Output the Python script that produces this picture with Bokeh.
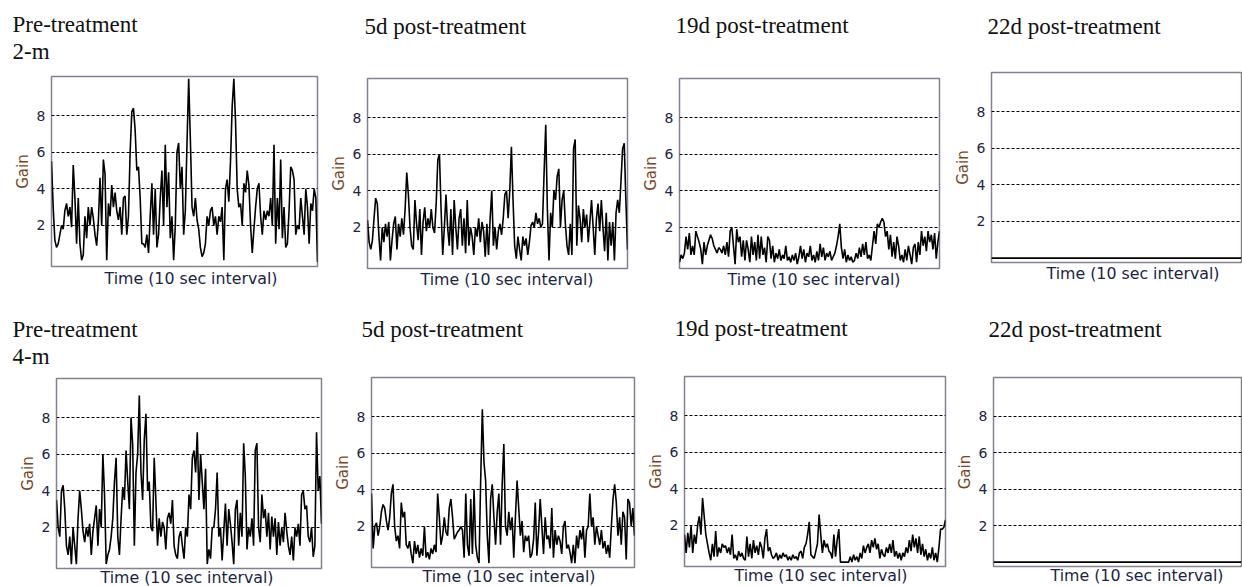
from bokeh.plotting import figure
from bokeh.models import Range1d, FixedTicker, Title
from bokeh.layouts import row, column
from bokeh.embed import file_html
from bokeh.resources import INLINE

# ---- data (gain per 10-second interval) ----
gain_2m_pre = [5.5, 3.0, 1.2, 0.8, 1.0, 1.5, 2.0, 1.8, 2.8, 3.2, 2.5, 3.0, 1.9, 5.3, 3.5, 1.0, 3.5, 1.0, 0.1, 0.4,
               2.5, 1.3, 3.0, 2.0, 3.0, 2.4, 1.5, 0.9, 2.2, 4.6, 2.0, 5.6, 4.8, 0.1, 3.2, 2.5, 4.2, 3.0, 3.8, 2.8,
               2.3, 3.0, 1.5, 3.5, 3.6, 1.5, 2.5, 6.0, 8.2, 8.4, 7.2, 5.0, 5.2, 3.5, 1.0, 1.0, 0.8, 1.5, 0.5, 2.5,
               4.3, 1.5, 4.0, 0.8, 1.5, 3.5, 5.0, 2.0, 6.4, 3.0, 4.9, 1.3, 2.5, 0.1, 2.0, 6.0, 6.5, 4.0, 5.2, 1.5,
               2.8, 6.5, 10.0, 6.7, 3.0, 2.5, 3.5, 2.3, 1.8, 0.8, 0.3, 0.5, 1.0, 2.5, 2.0, 2.8, 3.0, 2.0, 2.5, 1.5,
               2.5, 2.2, 3.0, 0.1, 4.0, 4.5, 3.3, 5.5, 8.5, 10.0, 7.7, 4.0, 3.0, 3.2, 2.0, 4.3, 3.8, 5.0, 4.2, 2.0,
               0.5, 1.8, 3.0, 4.0, 4.3, 2.5, 1.5, 2.8, 2.3, 2.8, 2.5, 3.5, 2.0, 6.4, 1.0, 3.5, 1.8, 5.6, 1.3, 3.0,
               0.8, 1.0, 2.8, 5.2, 5.0, 4.5, 1.5, 2.0, 1.8, 3.5, 2.5, 1.5, 4.0, 3.0, 1.0, 3.2, 2.8, 4.0, 3.5, 0.0]

gain_2m_5d = [2.4, 1.2, 0.8, 1.3, 2.5, 3.6, 3.3, 1.5, 0.2, 2.0, 1.2, 2.2, 1.5, 2.3, 0.2, 1.3, 2.2, 2.6, 0.8, 2.2,
              1.5, 2.5, 1.6, 3.0, 5.0, 3.8, 2.0, 1.0, 0.8, 3.5, 2.2, 1.3, 3.0, 0.5, 2.3, 3.1, 1.8, 2.5, 2.0, 3.0,
              2.0, 1.7, 3.3, 5.7, 6.0, 3.0, 0.5, 2.0, 3.8, 2.0, 1.0, 3.0, 0.5, 3.5, 2.0, 0.8, 2.5, 3.0, 1.0, 2.5,
              0.6, 3.5, 1.0, 2.0, 1.5, 0.5, 2.0, 1.5, 2.5, 1.2, 2.3, 1.8, 0.4, 2.2, 0.5, 2.5, 4.0, 1.0, 2.0, 0.8,
              1.8, 2.2, 1.6, 2.5, 3.8, 4.0, 2.5, 4.0, 6.4, 3.5, 1.0, 0.3, 1.5, 0.8, 0.2, 1.5, 1.0, 1.4, 0.5, 1.2,
              2.1, 2.3, 2.0, 2.8, 2.2, 2.5, 2.0, 2.2, 5.0, 7.6, 3.0, 0.2, 2.8, 2.0, 4.0, 3.5, 4.8, 5.2, 2.0, 3.5,
              4.0, 2.2, 1.0, 0.5, 2.2, 0.5, 6.3, 6.8, 1.0, 3.2, 2.5, 1.2, 3.0, 2.0, 2.7, 1.2, 2.3, 3.5, 2.0, 0.5,
              2.5, 3.3, 1.8, 3.5, 2.0, 0.7, 2.8, 0.2, 2.3, 1.0, 2.3, 0.2, 2.8, 3.5, 2.8, 4.5, 6.3, 6.6, 3.5, 0.8]

gain_2m_19d = [0.1, 0.5, 0.3, 0.6, 1.5, 0.8, 1.7, 0.5, 1.0, 0.5, 1.8, 1.5, 1.2, 0.8, 0.0, 1.2, 0.5, 1.0, 1.3, 1.6,
               1.4, 1.0, 0.8, 0.6, 0.9, 0.8, 0.6, 1.0, 0.5, 1.2, 0.4, 1.8, 2.0, 1.0, 0.0, 1.9, 1.2, 1.5, 0.4, 1.3,
               0.2, 1.3, 0.8, 0.1, 1.5, 0.5, 1.2, 0.2, 1.6, 0.3, 1.5, 0.5, 0.9, 0.1, 1.5, 1.3, 0.3, 1.0, 0.1, 0.6,
               0.3, 0.8, 0.2, 0.5, 0.3, 1.0, 0.2, 0.4, 0.1, 0.5, 0.2, 0.6, 0.0, 0.4, 1.0, 0.3, 0.8, 0.1, 0.6, 0.4,
               1.0, 0.2, 0.5, 0.1, 0.7, 0.2, 1.1, 0.4, 0.9, 0.2, 0.6, 0.4, 0.7, 0.2, 0.4, 0.6, 1.0, 1.5, 2.2, 0.9,
               0.3, 0.8, 0.1, 0.5, 0.2, 0.4, 0.1, 0.2, 0.6, 0.3, 0.9, 0.4, 1.1, 0.5, 1.2, 0.3, 0.5, 0.2, 1.0, 1.8,
               1.1, 2.2, 2.0, 2.3, 2.5, 2.3, 1.5, 1.8, 0.8, 1.6, 0.4, 1.2, 0.3, 1.5, 1.0, 0.2, 0.5, 0.1, 0.8, 0.2,
               1.0, 0.5, 0.0, 0.9, 1.1, 0.1, 1.2, 0.5, 1.8, 1.0, 1.5, 0.7, 1.8, 1.2, 1.6, 0.8, 1.7, 0.3, 1.2, 1.8]

gain_2m_22d = [0.0, 0.0, 0.0, 0.0, 0.0, 0.0, 0.0, 0.0, 0.0, 0.0, 0.0, 0.0, 0.0, 0.0, 0.0, 0.0, 0.0, 0.0, 0.0, 0.0]

gain_4m_pre = [3.5, 2.0, 1.5, 4.0, 4.3, 3.0, 1.0, 0.5, 1.5, 0.0, 2.0, 1.0, 0.0, 2.5, 4.0, 3.0, 1.8, 1.2, 2.0, 1.5,
               2.2, 0.5, 1.8, 2.5, 3.2, 1.0, 3.0, 2.0, 6.0, 3.8, 0.0, 0.5, 0.8, 1.5, 2.5, 4.5, 5.8, 1.5, 0.5, 2.5,
               4.2, 3.5, 6.2, 4.5, 3.0, 8.0, 6.5, 1.0, 5.0, 6.0, 9.2, 5.0, 3.5, 6.8, 8.2, 4.0, 4.5, 2.0, 1.8, 5.8,
               3.5, 1.0, 2.5, 1.5, 2.3, 2.0, 0.8, 2.5, 2.8, 2.2, 3.5, 1.0, 0.5, 0.3, 1.5, 1.8, 1.0, 0.3, 2.0, 1.5,
               3.8, 3.0, 5.8, 6.2, 5.0, 7.2, 3.5, 6.0, 4.5, 3.0, 5.2, 0.0, 0.8, 0.3, 2.0, 2.0, 3.0, 5.0, 1.5, 2.0,
               0.2, 1.8, 3.3, 1.0, 3.0, 2.2, 1.2, 0.0, 3.0, 3.5, 1.0, 2.8, 1.5, 6.6, 4.8, 0.8, 2.0, 1.5, 2.5, 1.0,
               6.2, 6.6, 2.0, 1.2, 3.8, 2.5, 3.0, 1.5, 2.8, 0.8, 2.6, 1.5, 2.5, 0.5, 2.3, 1.0, 2.0, 1.2, 2.8, 1.8,
               1.0, 0.5, 1.5, 0.2, 2.0, 1.5, 2.2, 1.0, 3.8, 4.0, 3.0, 3.2, 1.5, 1.2, 2.0, 0.4, 1.0, 7.2, 4.0, 4.8,
               2.2]

gain_4m_5d = [3.8, 0.8, 2.0, 2.2, 1.5, 2.0, 2.8, 3.2, 3.0, 2.3, 1.8, 2.5, 3.8, 4.3, 2.0, 1.2, 1.5, 0.8, 3.3, 2.5,
              2.8, 1.0, 0.8, 1.2, 0.5, 0.0, 1.2, 0.5, 1.0, 0.3, 0.8, 0.4, 2.0, 0.3, 0.6, 0.2, 0.8, 0.5, 1.0, 0.6,
              3.8, 2.5, 1.0, 1.5, 2.5, 1.7, 1.5, 3.0, 3.5, 2.5, 1.3, 1.5, 1.7, 1.8, 2.0, 1.8, 0.3, 3.8, 1.0, 0.4,
              3.5, 0.5, 4.0, 1.0, 0.3, 0.0, 4.5, 8.4, 5.5, 4.5, 1.5, 0.0, 3.5, 4.3, 2.5, 1.0, 2.8, 3.8, 1.0, 4.3,
              6.5, 2.0, 1.5, 2.8, 1.8, 2.5, 0.3, 2.5, 4.5, 3.0, 1.5, 2.3, 0.6, 1.5, 1.2, 1.5, 0.3, 0.5, 1.3, 3.3,
              0.4, 1.7, 3.5, 2.0, 0.5, 2.5, 1.3, 1.5, 0.8, 3.0, 0.3, 1.8, 1.0, 1.5, 1.2, 0.5, 2.0, 2.3, 0.8, 1.0,
              0.6, 0.0, 1.0, 0.0, 1.5, 0.8, 1.8, 1.3, 2.0, 0.3, 1.8, 2.0, 3.8, 2.0, 2.5, 1.0, 2.0, 1.5, 1.0, 1.8,
              0.8, 1.2, 0.5, 1.0, 0.3, 2.0, 3.5, 4.3, 3.3, 1.5, 2.5, 1.0, 2.8, 2.5, 0.2, 3.5, 3.3, 2.0, 3.0, 1.5]

gain_4m_19d = [1.5, 0.5, 1.6, 0.8, 2.0, 0.5, 1.5, 1.0, 2.0, 2.5, 1.5, 3.5, 2.5, 1.5, 1.0, 0.5, 0.1, 1.0, 0.3, 1.7,
               0.3, 0.8, 0.5, 1.0, 0.8, 0.9, 0.5, 0.8, 0.4, 1.5, 0.2, 0.4, 0.1, 0.6, 0.3, 0.5, 0.2, 0.1, 1.4, 0.3,
               1.0, 0.2, 1.2, 0.5, 0.9, 0.4, 1.1, 0.8, 0.2, 1.3, 1.8, 0.6, 0.8, 0.4, 0.2, 0.3, 0.5, 0.1, 0.4, 0.2,
               0.5, 0.3, 0.4, 0.1, 0.3, 0.1, 0.4, 0.2, 0.3, 0.1, 0.5, 0.6, 0.2, 0.8, 1.0, 1.5, 2.2, 0.4, 0.3, 0.2,
               0.6, 1.0, 2.6, 1.5, 0.5, 1.2, 0.8, 1.0, 0.6, 0.5, 0.2, 1.5, 0.3, 1.2, 1.8, 0.0, 0.0, 0.0, 0.0, 0.0,
               0.0, 0.3, 0.0, 0.4, 0.1, 0.3, 0.0, 0.5, 0.2, 0.9, 0.5, 0.8, 1.0, 0.5, 1.2, 0.8, 1.3, 0.7, 1.0, 0.2,
               0.7, 0.4, 0.3, 0.8, 0.5, 1.0, 0.5, 1.2, 0.3, 0.6, 0.2, 0.5, 0.1, 0.5, 0.3, 0.8, 0.5, 1.2, 0.6, 1.5,
               0.8, 1.3, 0.5, 1.4, 0.4, 1.0, 0.3, 0.7, 0.1, 0.5, 0.2, 0.8, 0.1, 0.5, 0.0, 0.8, 1.8, 1.8, 1.9, 2.3]

gain_4m_22d = [0.0, 0.0, 0.0, 0.0, 0.0, 0.0, 0.0, 0.0, 0.0, 0.0, 0.0, 0.0, 0.0, 0.0, 0.0, 0.0, 0.0, 0.0, 0.0, 0.0]

y_ticks = [2, 4, 6, 8]
panel_titles = ["Pre-treatment", "5d post-treatment", "19d post-treatment", "22d post-treatment"]
distance_labels = ["2-m", "4-m"]
x_label = "Time (10 sec interval)"
y_label = "Gain"

SANS = "DejaVu Sans"
SERIF = "Liberation Serif"
TEXT_DARK = "#1c2444"


def panel(vals, titles, width, height, left, right, top, bottom, title_offset, spacer,
          xlabel_offset, xlabel_standoff):
    p = figure(width=width, height=height, output_backend="svg", toolbar_location=None,
               x_range=Range1d(0, len(vals) - 1), y_range=Range1d(-0.24, 10.13),
               x_axis_location=None,
               min_border_left=left, min_border_right=right,
               min_border_top=top, min_border_bottom=bottom, title=None)
    p.line(list(range(len(vals))), vals, line_color="black", line_width=1.6)

    # invisible spacer title next to the frame, then the real titles stacked outward
    p.add_layout(Title(text=" ", text_font_size="1px", standoff=spacer), "above")
    for t in reversed(titles):
        p.add_layout(Title(text=t, text_font=SERIF, text_font_size="23px", text_font_style="normal",
                           text_color="#111111", align="left", offset=title_offset, standoff=0), "above")

    # x-axis caption (the x axis has no ticks or tick labels)
    p.add_layout(Title(text=x_label, text_font=SANS, text_font_size="15.8px", text_font_style="normal",
                       text_color=TEXT_DARK, align="left", offset=xlabel_offset,
                       standoff=xlabel_standoff), "below")

    p.yaxis.ticker = FixedTicker(ticks=y_ticks)
    p.yaxis.major_tick_line_color = None
    p.yaxis.minor_tick_line_color = None
    p.yaxis.major_tick_out = 0
    p.yaxis.minor_tick_out = 0
    p.yaxis.axis_line_color = None
    p.yaxis.major_label_text_font = SANS
    p.yaxis.major_label_text_font_size = "14px"
    p.yaxis.major_label_text_color = TEXT_DARK
    p.yaxis.major_label_standoff = 6
    p.yaxis.axis_label = y_label
    p.yaxis.axis_label_text_font = SANS
    p.yaxis.axis_label_text_font_size = "15px"
    p.yaxis.axis_label_text_font_style = "normal"
    p.yaxis.axis_label_text_color = "#7a4522"
    p.yaxis.axis_label_standoff = 2

    for g in p.grid:
        if g.dimension == 0:
            g.visible = False
        else:
            g.grid_line_color = "black"
            g.grid_line_dash = "3 2"
            g.grid_line_width = 1
    p.outline_line_color = "#858090"
    p.outline_line_width = 1.5
    p.background_fill_color = "white"
    p.border_fill_color = "white"
    return column(p)


top_row = row(
    panel(gain_2m_pre, [panel_titles[0], distance_labels[0]], 326, 292, 51, 9, 76, 26, -39, 10, 53, 0),
    panel(gain_2m_5d, [panel_titles[1]], 312, 292, 36, 11, 78, 24, -3, 37, 53, -2),
    panel(gain_2m_19d, [panel_titles[2]], 312, 292, 36, 11, 78, 24, -4, 38, 48, -2),
    panel(gain_2m_22d, [panel_titles[3]], 292, 292, 37, 1, 72, 30, -4, 31, 55, -2),
    spacing=0)

bottom_row = row(
    panel(gain_4m_pre, [panel_titles[0], distance_labels[1]], 330, 294, 56, 9, 86, 18, -44, 7, 44, -6),
    panel(gain_4m_5d, [panel_titles[1]], 313, 294, 39, 9, 85, 19, -10, 33, 51, -6),
    panel(gain_4m_19d, [panel_titles[2]], 309, 294, 37, 7, 84, 20, -10, 33, 50, -6),
    panel(gain_4m_22d, [panel_titles[3]], 290, 294, 36, 1, 85, 20, -5, 33, 57, -6),
    spacing=0)

layout = column(top_row, bottom_row, spacing=0)

open("out.html", "w").write(file_html(layout, INLINE))
